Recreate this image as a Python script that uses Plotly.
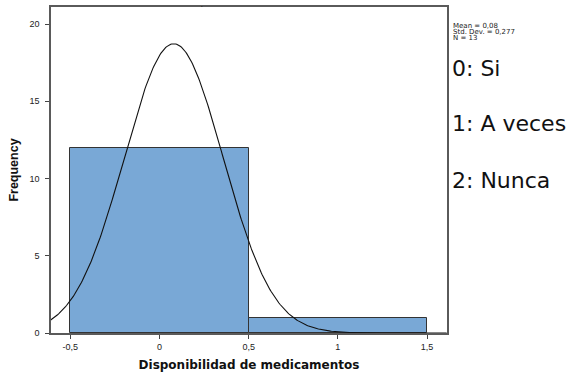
import numpy as np
import plotly.graph_objects as go

# Histogram of "Disponibilidad de medicamentos" (0: Si, 1: A veces, 2: Nunca)
bin_centers = [0, 1]
frequencies = [12, 1]
mean_val = 0.08
std_dev = 0.277
n_obs = 13
bin_width = 1.0

x_tickvals = [-0.5, 0, 0.5, 1, 1.5]
x_ticktext = ["-0,5", "0", "0,5", "1", "1,5"]
y_tickvals = [0, 5, 10, 15, 20]
y_ticktext = ["0", "5", "10", "15", "20"]

stats_lines = ["Mean = 0,08", "Std. Dev. = 0,277", "N = 13"]
code_labels = ["0: Si", "1: A veces", "2: Nunca"]

W, H = 567, 372
ML, MR, MT, MB = 51, 120, 7, 39
plot_w = W - ML - MR
plot_h = H - MT - MB


def px(xp):
    return (xp - ML) / plot_w


def py(yp):
    return (H - MB - yp) / plot_h


fig = go.Figure()

fig.add_trace(go.Bar(
    x=bin_centers, y=frequencies, width=bin_width,
    marker=dict(color="#79a8d6", line=dict(color="#333333", width=1)),
    hoverinfo="skip",
))

# Fitted normal curve scaled to the counts
xs = np.linspace(-0.61, 1.61, 400)
ys = n_obs * bin_width / (std_dev * np.sqrt(2 * np.pi)) * np.exp(-0.5 * ((xs - mean_val) / std_dev) ** 2)
fig.add_trace(go.Scatter(x=xs, y=ys, mode="lines",
                         line=dict(color="#111111", width=1.1), hoverinfo="skip"))

axis_common = dict(showgrid=False, zeroline=False, showline=True, mirror=True,
                   automargin=False,
                   linecolor="#5a5a5a", linewidth=1.5, ticks="outside", ticklen=4,
                   tickcolor="#444444", tickfont=dict(family="Liberation Sans, Arial", size=9, color="#222222"))

fig.update_layout(
    width=W, height=H,
    margin=dict(l=ML, r=MR, t=MT, b=MB),
    plot_bgcolor="white", paper_bgcolor="white",
    showlegend=False,
    bargap=0,
    xaxis=dict(range=[-0.608, 1.612], tickvals=x_tickvals, ticktext=x_ticktext,
               title=dict(text="<b>Disponibilidad de medicamentos</b>", standoff=10,
                          font=dict(family="DejaVu Sans", size=12, color="#111111")),
               **axis_common),
    yaxis=dict(range=[0, 21.1], tickvals=y_tickvals, ticktext=y_ticktext,
               ticklabelstandoff=4,
               title=dict(text="<b>Frequency</b>", standoff=8,
                          font=dict(family="Liberation Sans, Arial", size=12.5, color="#111111")),
               **axis_common),
)

# descriptive statistics block
for txt, yy in zip(stats_lines, [26.5, 32.3, 38.1]):
    fig.add_annotation(text=txt, x=px(451), y=py(yy), xref="paper", yref="paper",
                       showarrow=False, xanchor="left", yanchor="middle",
                       font=dict(family="DejaVu Sans", size=7, color="#222222"))

# value codes
for txt, yy in zip(code_labels, [68, 123, 180]):
    fig.add_annotation(text=txt, x=px(450), y=py(yy), xref="paper", yref="paper",
                       showarrow=False, xanchor="left", yanchor="middle",
                       font=dict(family="DejaVu Sans", size=22, color="#111111"))

# small title mark above the frame
fig.add_annotation(text="<b>.</b>", x=px(202), y=py(0), xref="paper", yref="paper",
                   showarrow=False, xanchor="center", yanchor="top",
                   font=dict(family="Liberation Sans, Arial", size=6, color="#111111"))

fig.write_html("out.html")
